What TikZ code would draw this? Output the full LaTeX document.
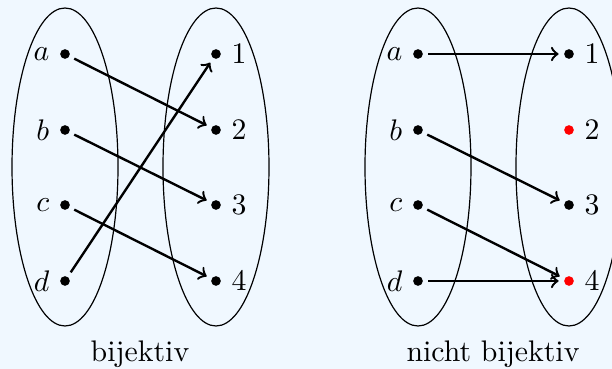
\documentclass[tikz,border=0pt]{standalone}
\definecolor{bgblue}{RGB}{240,248,255}
\tikzset{
  dot/.style={circle, fill, inner sep=1.15pt, outer sep=1.85pt},
  lbl/.style={inner sep=1.6pt, text=black},
  pfeil/.style={->, thick},
}
\begin{document}
\begin{tikzpicture}[x=0.118mm, y=0.118mm]
    % Hintergrund
    \fill[bgblue] (0,0) rectangle (612,369);
    \useasboundingbox (0,0) rectangle (612,369);

    % Mengen (bijektiv)
    \draw[thin] (65,202) ellipse (53 and 159);
    \draw[thin] (216,202) ellipse (53 and 159);
    % Mengen (nicht bijektiv)
    \draw[thin] (418,202) ellipse (53 and 159);
    \draw[thin] (569,202) ellipse (53 and 159);

    % Punkte bijektiv
    \foreach \n/\y in {a/315, b/239, c/164, d/88}
        \node[dot, label={[lbl]left:$\n$}] (bl\n) at (65,\y) {};
    \foreach \n/\y in {1/315, 2/239, 3/164, 4/88}
        \node[dot, label={[lbl]right:$\n$}] (br\n) at (216,\y) {};

    % Punkte nicht bijektiv
    \foreach \n/\y in {a/315, b/239, c/164, d/88}
        \node[dot, label={[lbl]left:$\n$}] (nl\n) at (418,\y) {};
    \foreach \n/\y/\f in {1/315/black, 2/239/red, 3/164/black, 4/88/red}
        \node[dot, fill=\f, label={[lbl]right:$\n$}] (nr\n) at (569,\y) {};

    % Zuordnungen
    \draw[pfeil] (bla) -- (br2);
    \draw[pfeil] (blb) -- (br3);
    \draw[pfeil] (blc) -- (br4);
    \draw[pfeil] (bld) -- (br1);

    \draw[pfeil] (nla) -- (nr1);
    \draw[pfeil] (nlb) -- (nr3);
    \draw[pfeil] (nlc) -- (nr4);
    \draw[pfeil] (nld) -- (nr4);

    % Beschriftung
    \node (capbij) at (140,15) {bijektiv};
    \node (capnbij) at (493,15) {nicht bijektiv};
\end{tikzpicture}
\end{document}
